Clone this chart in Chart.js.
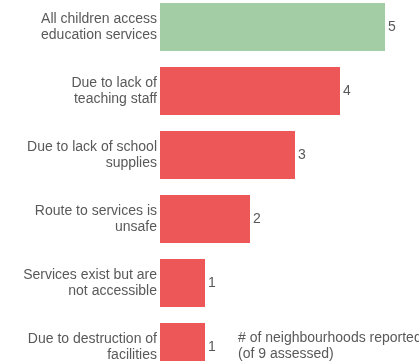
<!DOCTYPE html>
<html>
<head>
<meta charset="utf-8">
<script src="https://cdn.jsdelivr.net/npm/chart.js@4"></script>
<style>
    html, body { margin: 0; padding: 0; background: #fff; overflow: hidden; }
    body { width: 419px; height: 361px; position: relative; }
    #wrap { position: absolute; left: 0; top: -5px; width: 419px; height: 384px; }
</style>
</head>
<body>
<div id="wrap"><canvas id="chart"></canvas></div>
<script>
// Categories (multi-line labels) and values
const categories = [
    ['All children access', 'education services'],
    ['Due to lack of', 'teaching staff'],
    ['Due to lack of school', 'supplies'],
    ['Route to services is', 'unsafe'],
    ['Services exist but are', 'not accessible'],
    ['Due to destruction of', 'facilities']
];
const values = [5, 4, 3, 2, 1, 1];
const barColors = ['#a3cea5', '#ee5757', '#ee5757', '#ee5757', '#ee5757', '#ee5757'];
const noteLines = ['# of neighbourhoods reported', '(of 9 assessed)'];

const FONT = 'Liberation Sans, Arial, sans-serif';
const TEXT = '#595959';

// Value labels at bar ends + note text
const labelsPlugin = {
    id: 'labels',
    afterDatasetsDraw(chart) {
        const ctx = chart.ctx;
        const meta = chart.getDatasetMeta(0);
        ctx.save();
        ctx.font = '14px ' + FONT;
        ctx.fillStyle = TEXT;
        ctx.textBaseline = 'middle';
        ctx.textAlign = 'left';
        meta.data.forEach((bar, i) => {
            ctx.fillText(values[i], bar.x + 3, bar.y);
        });
        // note next to the last bar
        const last = meta.data[meta.data.length - 1];
        noteLines.forEach((line, i) => {
            ctx.fillText(line, 238, last.y - 9 + i * 16);
        });
        ctx.restore();
    }
};

new Chart(document.getElementById('chart'), {
    type: 'bar',
    data: {
        labels: categories,
        datasets: [{
            data: values,
            backgroundColor: barColors,
            borderWidth: 0,
            barPercentage: 0.75,
            categoryPercentage: 1
        }]
    },
    options: {
        indexAxis: 'y',
        responsive: true,
        maintainAspectRatio: false,
        animation: false,
        layout: { padding: { left: 0, right: 34, top: 0, bottom: 0 } },
        plugins: {
            legend: { display: false },
            tooltip: { enabled: false }
        },
        scales: {
            x: {
                display: false,
                min: 0,
                max: 5
            },
            y: {
                afterFit(scale) {
                    scale.width = 160;
                    scale.paddingTop = 0;
                    scale.paddingBottom = 0;
                },
                border: { display: false },
                grid: { display: false, drawTicks: false },
                ticks: {
                    padding: 3,
                    color: TEXT,
                    font: { family: FONT, size: 14, lineHeight: 16 / 14 }
                }
            }
        }
    },
    plugins: [labelsPlugin]
});
</script>
</body>
</html>
